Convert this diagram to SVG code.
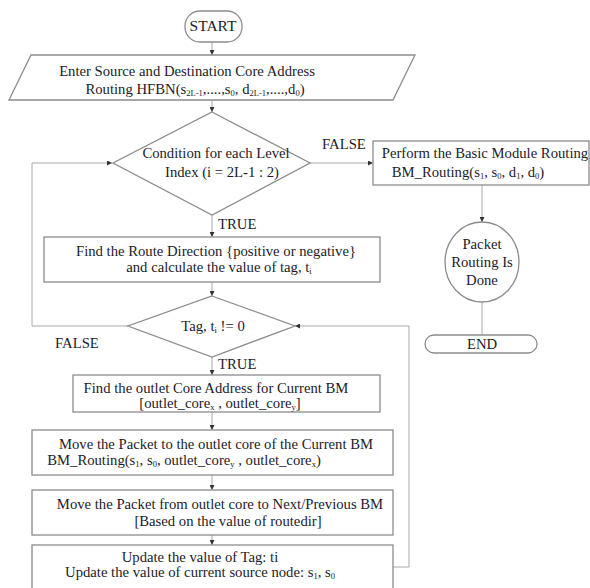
<svg xmlns="http://www.w3.org/2000/svg" width="590" height="588" viewBox="0 0 590 588">
<style>
  .shape { fill: #ffffff; stroke: #8c8c8c; stroke-width: 1.3; }
  .conn { fill: none; stroke: #a8a8a8; stroke-width: 1; }
  text { font-family: "Liberation Serif", "Times New Roman", serif; font-size: 14.7px; fill: #1b1b2a; }
  .c { text-anchor: middle; }
  .s { font-size: 8.5px; }
</style>
<defs>
  <marker id="arr" viewBox="0 0 6 6" refX="6" refY="3" markerWidth="5" markerHeight="5" orient="auto" markerUnits="userSpaceOnUse">
    <path d="M0,0 L6,3 L0,6 z" fill="#333333"/>
  </marker>
</defs>
<rect width="590" height="588" fill="#ffffff"/>

<g id="connectors">
  <line class="conn" x1="212" y1="42" x2="212" y2="55" marker-end="url(#arr)"/>
  <line class="conn" x1="212" y1="100" x2="212" y2="112" marker-end="url(#arr)"/>
  <line class="conn" x1="310" y1="163" x2="373" y2="163" marker-end="url(#arr)"/>
  <line class="conn" x1="212" y1="215" x2="212" y2="237" marker-end="url(#arr)"/>
  <line class="conn" x1="482" y1="185" x2="482" y2="222" marker-end="url(#arr)"/>
  <line class="conn" x1="482" y1="302" x2="482" y2="335"/>
  <line class="conn" x1="212" y1="282" x2="212" y2="296" marker-end="url(#arr)"/>
  <polyline class="conn" points="128,326 32,326 32,163 112,163" marker-end="url(#arr)"/>
  <line class="conn" x1="212" y1="357" x2="212" y2="375" marker-end="url(#arr)"/>
  <line class="conn" x1="212" y1="412" x2="212" y2="430" marker-end="url(#arr)"/>
  <line class="conn" x1="212" y1="475" x2="212" y2="490" marker-end="url(#arr)"/>
  <line class="conn" x1="212" y1="535" x2="212" y2="545" marker-end="url(#arr)"/>
  <polyline class="conn" points="393,567 409,567 409,326 295,326" marker-end="url(#arr)"/>
  <text x="322" y="149">FALSE</text>
  <text x="218" y="229">TRUE</text>
  <text x="55" y="348">FALSE</text>
  <text x="218" y="369">TRUE</text>
</g>

<g id="start">
  <rect class="shape" x="185" y="11" width="57" height="31" rx="15" ry="15"/>
  <text class="c" x="213" y="31" style="font-size:15.5px">START</text>
</g>

<g id="input">
  <polygon class="shape" points="31,55 415,55 393,100 9,100"/>
  <text class="c" x="187" y="76">Enter Source and Destination Core Address</text>
  <text class="c" x="195" y="94">Routing HFBN(s<tspan class="s" dy="2">2L-1</tspan><tspan dy="-2">,....,s</tspan><tspan class="s" dy="2">0</tspan><tspan dy="-2">, d</tspan><tspan class="s" dy="2">2L-1</tspan><tspan dy="-2">,....,d</tspan><tspan class="s" dy="2">0</tspan><tspan dy="-2">)</tspan></text>
</g>

<g id="cond-level">
  <polygon class="shape" points="212,112 310,163 212,215 113,163"/>
  <text class="c" x="216" y="158">Condition for each Level</text>
  <text class="c" x="222" y="177">Index (i = 2L-1 : 2)</text>
</g>

<g id="basic-module">
  <rect class="shape" x="373" y="141" width="216" height="44"/>
  <text class="c" x="485" y="158">Perform the Basic Module Routing</text>
  <text class="c" x="468" y="177">BM_Routing(s<tspan class="s" dy="2">1</tspan><tspan dy="-2">, s</tspan><tspan class="s" dy="2">0</tspan><tspan dy="-2">, d</tspan><tspan class="s" dy="2">1</tspan><tspan dy="-2">, d</tspan><tspan class="s" dy="2">0</tspan><tspan dy="-2">)</tspan></text>
</g>

<g id="done">
  <ellipse class="shape" cx="482" cy="262" rx="37" ry="40"/>
  <text class="c" x="482" y="249">Packet</text>
  <text class="c" x="482" y="267">Routing Is</text>
  <text class="c" x="482" y="285">Done</text>
</g>

<g id="end">
  <rect class="shape" x="425" y="335" width="112" height="18" rx="9" ry="9"/>
  <text class="c" x="482" y="349">END</text>
</g>

<g id="route-direction">
  <rect class="shape" x="44" y="237" width="336" height="45"/>
  <text class="c" x="216" y="256">Find the Route Direction {positive or negative}</text>
  <text class="c" x="219" y="272">and calculate the value of tag, t<tspan class="s" dy="2">i</tspan></text>
</g>

<g id="cond-tag">
  <polygon class="shape" points="212,296 295,326 212,357 128,326"/>
  <text class="c" x="213" y="331">Tag, t<tspan class="s" dy="2">i</tspan><tspan dy="-2"> != 0</tspan></text>
</g>

<g id="outlet-address">
  <rect class="shape" x="73" y="375" width="307" height="37"/>
  <text class="c" x="216" y="393">Find the outlet Core Address for Current BM</text>
  <text class="c" x="220" y="408">[outlet_core<tspan class="s" dy="2">x</tspan><tspan dy="-2"> , outlet_core</tspan><tspan class="s" dy="2">y</tspan><tspan dy="-2">]</tspan></text>
</g>

<g id="move-outlet">
  <rect class="shape" x="32" y="430" width="361" height="45"/>
  <text class="c" x="216" y="449">Move the Packet to the outlet core of the Current BM</text>
  <text class="c" x="184" y="465">BM_Routing(s<tspan class="s" dy="2">1</tspan><tspan dy="-2">, s</tspan><tspan class="s" dy="2">0</tspan><tspan dy="-2">, outlet_core</tspan><tspan class="s" dy="2">y</tspan><tspan dy="-2"> , outlet_core</tspan><tspan class="s" dy="2">x</tspan><tspan dy="-2">)</tspan></text>
</g>

<g id="move-next">
  <rect class="shape" x="32" y="490" width="361" height="45"/>
  <text class="c" x="220" y="509">Move the Packet from outlet core to Next/Previous BM</text>
  <text class="c" x="228" y="526">[Based on the value of routedir]</text>
</g>

<g id="update">
  <rect class="shape" x="32" y="545" width="361" height="50"/>
  <text class="c" x="200" y="562">Update the value of Tag: ti</text>
  <text class="c" x="200" y="577">Update the value of current source node: s<tspan class="s" dy="2">1</tspan><tspan dy="-2">, s</tspan><tspan class="s" dy="2">0</tspan></text>
</g>
</svg>
